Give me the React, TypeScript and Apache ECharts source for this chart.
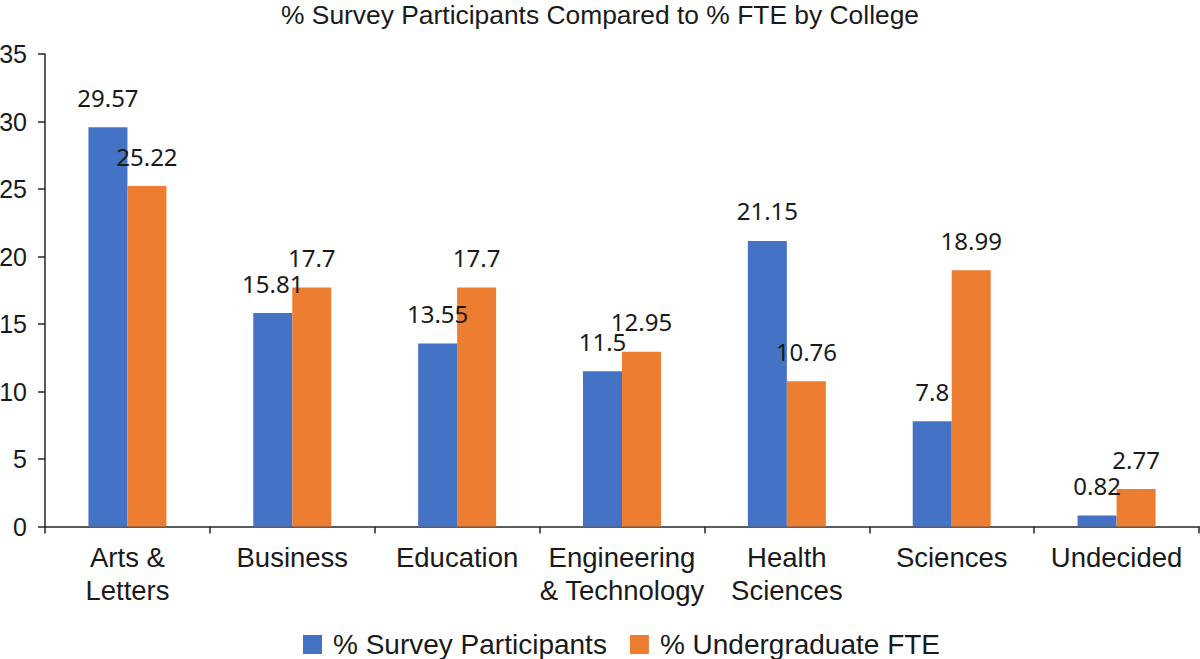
import React, { useEffect, useRef } from "react";
import * as echarts from "echarts";

const categories = [
  "Arts &\nLetters",
  "Business",
  "Education",
  "Engineering\n& Technology",
  "Health\nSciences",
  "Sciences",
  "Undecided",
];
const surveyParticipants = [29.57, 15.81, 13.55, 11.5, 21.15, 7.8, 0.82];
const undergraduateFTE = [25.22, 17.7, 17.7, 12.95, 10.76, 18.99, 2.77];
const seriesNames = ["% Survey Participants", "% Undergraduate FTE"];
const titleText = "% Survey Participants Compared to % FTE by College";

export default function App() {
  const ref = useRef<HTMLDivElement>(null);
  useEffect(() => {
    if (!ref.current) return;
    const chart = echarts.init(ref.current, undefined, { renderer: "svg" });
    const labelStyle = {
      show: true,
      position: "top" as const,
      distance: 18,
      fontFamily: "Noto Sans",
      fontSize: 24,
      color: "#1a1a1a",
    };
    chart.setOption({
      animation: false,
      backgroundColor: "#ffffff",
      title: {
        text: titleText,
        left: "center",
        top: 2,
        padding: 0,
        textStyle: {
          fontFamily: "Liberation Sans",
          fontSize: 26.4,
          fontWeight: "normal",
          color: "#1a1a1a",
        },
      },
      legend: {
        data: seriesNames,
        left: 303,
        top: 630.5,
        padding: 0,
        itemWidth: 19,
        itemHeight: 19,
        itemGap: 23,
        icon: "rect",
        textStyle: {
          fontFamily: "Liberation Sans",
          fontSize: 28,
          color: "#1a1a1a",
          padding: [0, 0, 0, 6],
        },
      },
      grid: {
        left: 45,
        right: 1,
        top: 54,
        bottom: 132.5,
        containLabel: false,
        outerBoundsMode: "none",
      },
      xAxis: {
        type: "category",
        data: categories,
        boundaryGap: true,
        axisLine: { show: true, lineStyle: { color: "#262626", width: 1.5 } },
        axisTick: {
          show: true,
          alignWithLabel: false,
          length: 7,
          lineStyle: { color: "#262626", width: 1.5 },
        },
        axisLabel: {
          interval: 0,
          margin: 14,
          fontFamily: "Liberation Sans",
          fontSize: 27.5,
          lineHeight: 33,
          color: "#1a1a1a",
        },
      },
      yAxis: {
        type: "value",
        min: 0,
        max: 35,
        interval: 5,
        splitLine: { show: false },
        axisLine: { show: true, lineStyle: { color: "#262626", width: 1.5 } },
        axisTick: { show: true, length: 7, lineStyle: { color: "#262626", width: 1.5 } },
        axisLabel: {
          margin: 18,
          fontFamily: "Liberation Sans",
          fontSize: 25,
          color: "#1a1a1a",
        },
      },
      series: [
        {
          name: seriesNames[0],
          type: "bar",
          data: surveyParticipants,
          barWidth: 39,
          barGap: "0%",
          itemStyle: { color: "#4472C4" },
          label: labelStyle,
        },
        {
          name: seriesNames[1],
          type: "bar",
          data: undergraduateFTE,
          barWidth: 39,
          barGap: "0%",
          itemStyle: { color: "#ED7D31" },
          label: labelStyle,
        },
      ],
    });
    return () => chart.dispose();
  }, []);
  return (
    <div
      ref={ref}
      style={{ position: "fixed", left: 0, top: 0, width: 1200, height: 659, background: "#fff" }}
    />
  );
}
